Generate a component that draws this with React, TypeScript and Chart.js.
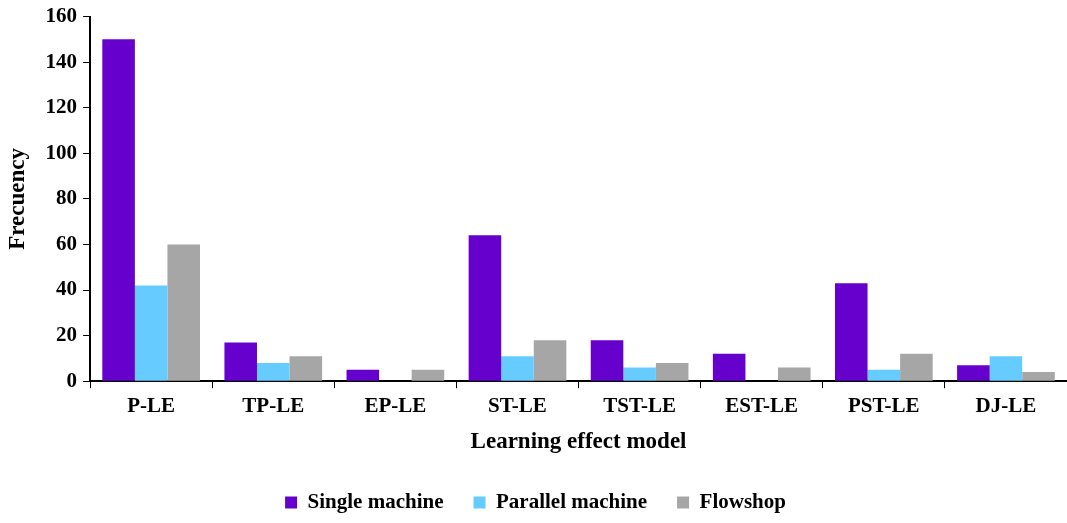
import React, { useEffect, useRef } from "react";
import { Chart, registerables } from "chart.js";

Chart.register(...registerables);

const categories = ["P-LE", "TP-LE", "EP-LE", "ST-LE", "TST-LE", "EST-LE", "PST-LE", "DJ-LE"];
const singleMachine = [150, 17, 5, 64, 18, 12, 43, 7];
const parallelMachine = [42, 8, 0, 11, 6, 0, 5, 11];
const flowshop = [60, 11, 5, 18, 8, 6, 12, 4];
const yTicks = [0, 20, 40, 60, 80, 100, 120, 140, 160];

const FONT = "'Liberation Serif', 'Times New Roman', serif";

export default function App() {
  const ref = useRef<HTMLCanvasElement | null>(null);
  useEffect(() => {
    if (!ref.current) return;
    const chart = new Chart(ref.current, {
      type: "bar",
      data: {
        labels: categories,
        datasets: [
          { label: "Single machine", data: singleMachine, backgroundColor: "#6600CC", borderWidth: 0 },
          { label: "Parallel machine", data: parallelMachine, backgroundColor: "#66CCFF", borderWidth: 0 },
          { label: "Flowshop", data: flowshop, backgroundColor: "#A6A6A6", borderWidth: 0 },
        ],
      },
      options: {
        animation: false,
        responsive: true,
        maintainAspectRatio: false,
        layout: { padding: { top: 0, right: 0, left: 4, bottom: 0 } },
        plugins: {
          tooltip: { enabled: false },
          legend: {
            position: "bottom",
            labels: {
              boxWidth: 12,
              boxHeight: 12,
              padding: 30,
              color: "#000",
              font: { family: FONT, size: 21, weight: "bold" },
            },
          },
        },
        datasets: { bar: { categoryPercentage: 0.8, barPercentage: 1.0 } },
        scales: {
          x: {
            offset: true,
            grid: { display: true, drawOnChartArea: false, drawTicks: true, tickLength: 7, color: "#000", offset: true },
            border: { color: "#000", width: 2 },
            ticks: { color: "#000", font: { family: FONT, size: 21, weight: "bold" }, padding: 6 },
            title: { display: true, text: "Learning effect model", color: "#000", font: { family: FONT, size: 23, weight: "bold" }, padding: { top: 3, bottom: 6 } },
          },
          y: {
            min: 0,
            max: 160,
            afterBuildTicks: (axis: any) => {
              axis.ticks = yTicks.map((v) => ({ value: v }));
            },
            grid: { display: true, drawOnChartArea: false, drawTicks: true, tickLength: 7, color: "#000" },
            border: { color: "#000", width: 2 },
            ticks: { color: "#000", font: { family: FONT, size: 21, weight: "bold", lineHeight: 1.0 }, padding: 6 },
            title: { display: true, text: "Frecuency", color: "#000", font: { family: FONT, size: 23, weight: "bold" }, padding: { top: 0, bottom: 8 } },
          },
        },
      },
    });
    return () => chart.destroy();
  }, []);
  return (
    <div style={{ position: "fixed", left: 0, top: 0, width: 1067, height: 523, background: "#fff" }}>
      <canvas ref={ref} />
    </div>
  );
}
